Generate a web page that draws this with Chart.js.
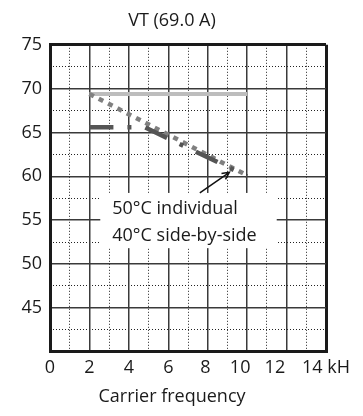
<!DOCTYPE html>
<html lang="en">

<head>
    <meta charset="UTF-8">
    <title>VT (69.0 A)</title>
    <script src="https://cdn.jsdelivr.net/npm/chart.js"></script>
    <style>
        html, body { margin: 0; padding: 0; background: #fff; }
        #wrap { width: 363px; height: 416px; }
    </style>
</head>

<body>
    <div id="wrap"><canvas id="derating"></canvas></div>

    <script>
        // values (kHz / A)
        const lightGrayLine = [{ x: 2, y: 69.4 }, { x: 10, y: 69.4 }];
        const grayDottedLine = [{ x: 2, y: 69.4 }, { x: 10, y: 60.1 }];
        const darkDashDotLine = [{ x: 2, y: 65.6 }, { x: 4.8, y: 65.6 }, { x: 10, y: 60.0 }];

        // tick labels (trailing spaces nudge a few labels left like the original)
        const xTickLabels = { 0: '0', 2: '2', 4: '4', 6: '6', 8: '8 ', 10: '10   ', 12: '12     ', 14: '14 kH' };
        const yTickLabels = { 45: '45', 50: '50', 55: '55', 60: '60', 65: '65', 70: '70', 75: '75' };

        const noteLines = ['50°C individual', '40°C side-by-side'];

        const FONT = "'Open Sans', sans-serif";
        Chart.defaults.font.family = FONT;
        Chart.defaults.color = '#1a1a1a';

        // white box with the note + arrow, placed in data coordinates
        const notePlugin = {
            id: 'note',
            afterDatasetsDraw(chart) {
                const { ctx, scales: { x, y } } = chart;
                const bx0 = x.getPixelForValue(2.55), bx1 = x.getPixelForValue(11.5);
                const by0 = y.getPixelForValue(58.1), by1 = y.getPixelForValue(51.8);
                ctx.save();
                ctx.fillStyle = '#fff';
                ctx.fillRect(bx0, by0, bx1 - bx0, by1 - by0);

                ctx.fillStyle = '#1a1a1a';
                ctx.font = '18px ' + FONT;
                ctx.textBaseline = 'middle';
                ctx.textAlign = 'left';
                ctx.fillText(noteLines[0], bx0 + 12, by0 + 16);
                ctx.fillText(noteLines[1], bx0 + 12, by0 + 43);

                // arrow
                const ax0 = x.getPixelForValue(7.6), ay0 = y.getPixelForValue(58.1);
                const ax1 = x.getPixelForValue(9.1), ay1 = y.getPixelForValue(60.45);
                ctx.strokeStyle = '#111';
                ctx.lineWidth = 1.5;
                ctx.beginPath();
                ctx.moveTo(ax0, ay0);
                ctx.lineTo(ax1, ay1);
                const ang = Math.atan2(ay1 - ay0, ax1 - ax0);
                ctx.moveTo(ax1 - 8 * Math.cos(ang - 0.45), ay1 - 8 * Math.sin(ang - 0.45));
                ctx.lineTo(ax1, ay1);
                ctx.lineTo(ax1 - 8 * Math.cos(ang + 0.45), ay1 - 8 * Math.sin(ang + 0.45));
                ctx.stroke();
                ctx.restore();
            }
        };

        const ctx = document.getElementById('derating').getContext('2d');
        new Chart(ctx, {
            type: 'line',
            data: {
                datasets: [
                    {
                        data: darkDashDotLine,
                        borderColor: '#555555',
                        borderWidth: 4.5,
                        borderDash: [24, 14, 4, 14]
                    },
                    {
                        data: grayDottedLine,
                        borderColor: '#808080',
                        borderWidth: 4.5,
                        borderDash: [5, 5.5]
                    },
                    {
                        data: lightGrayLine,
                        borderColor: '#bdbdbd',
                        borderWidth: 4
                    }
                ]
            },
            options: {
                responsive: true,
                maintainAspectRatio: false,
                animation: false,
                parsing: false,
                elements: { point: { radius: 0 }, line: { tension: 0 } },
                layout: { padding: { left: 18, right: 37, top: 0, bottom: 0 } },
                plugins: {
                    legend: { display: false },
                    tooltip: { enabled: false },
                    title: {
                        display: true,
                        text: 'VT (69.0 A)',
                        font: { size: 18, weight: 'normal', lineHeight: 1.1 },
                        color: '#1a1a1a',
                        padding: { top: 11, bottom: 14 }
                    },
                    subtitle: {
                        display: true,
                        position: 'bottom',
                        text: 'Carrier frequency',
                        font: { size: 18, weight: 'normal', lineHeight: 1.1 },
                        color: '#1a1a1a',
                        padding: { top: 4, bottom: 9 }
                    }
                },
                scales: {
                    // minor dotted grid
                    xMinor: {
                        type: 'linear', position: 'bottom', min: 0, max: 14,
                        ticks: { display: false, stepSize: 1 },
                        grid: {
                            drawTicks: false,
                            color: c => (c.tick.value % 2 === 1 ? '#222' : 'rgba(0,0,0,0)'),
                            lineWidth: 1
                        },
                        border: { display: false, dash: [1, 2] }
                    },
                    yMinor: {
                        type: 'linear', position: 'left', min: 40, max: 75,
                        ticks: { display: false, stepSize: 2.5 },
                        grid: {
                            drawTicks: false,
                            color: c => (c.tick.value % 5 !== 0 ? '#222' : 'rgba(0,0,0,0)'),
                            lineWidth: 1
                        },
                        border: { display: false, dash: [1, 2] }
                    },
                    x: {
                        type: 'linear', position: 'bottom', min: 0, max: 14,
                        ticks: {
                            stepSize: 2,
                            padding: 5,
                            autoSkip: false,
                            maxRotation: 0,
                            font: { size: 18 },
                            color: '#1a1a1a',
                            callback: v => xTickLabels[v] ?? ''
                        },
                        grid: {
                            drawTicks: false,
                            color: c => (c.tick.value === 0 || c.tick.value === 14 ? '#1a1a1a' : '#3a3a3a'),
                            lineWidth: c => (c.tick.value === 0 || c.tick.value === 14 ? 3 : 1.5)
                        },
                        border: { display: true, color: '#1a1a1a', width: 3 }
                    },
                    y: {
                        type: 'linear', position: 'left', min: 40, max: 75,
                        afterFit: s => { s.width = 32; },
                        ticks: {
                            stepSize: 5,
                            padding: 8,
                            font: { size: 18 },
                            color: '#1a1a1a',
                            callback: v => yTickLabels[v] ?? ''
                        },
                        grid: {
                            drawTicks: false,
                            color: c => (c.tick.value === 40 || c.tick.value === 75 ? '#1a1a1a' : '#3a3a3a'),
                            lineWidth: c => (c.tick.value === 40 || c.tick.value === 75 ? 3 : 1.5)
                        },
                        border: { display: true, color: '#1a1a1a', width: 3 }
                    }
                }
            },
            plugins: [notePlugin]
        });
    </script>
</body>

</html>
